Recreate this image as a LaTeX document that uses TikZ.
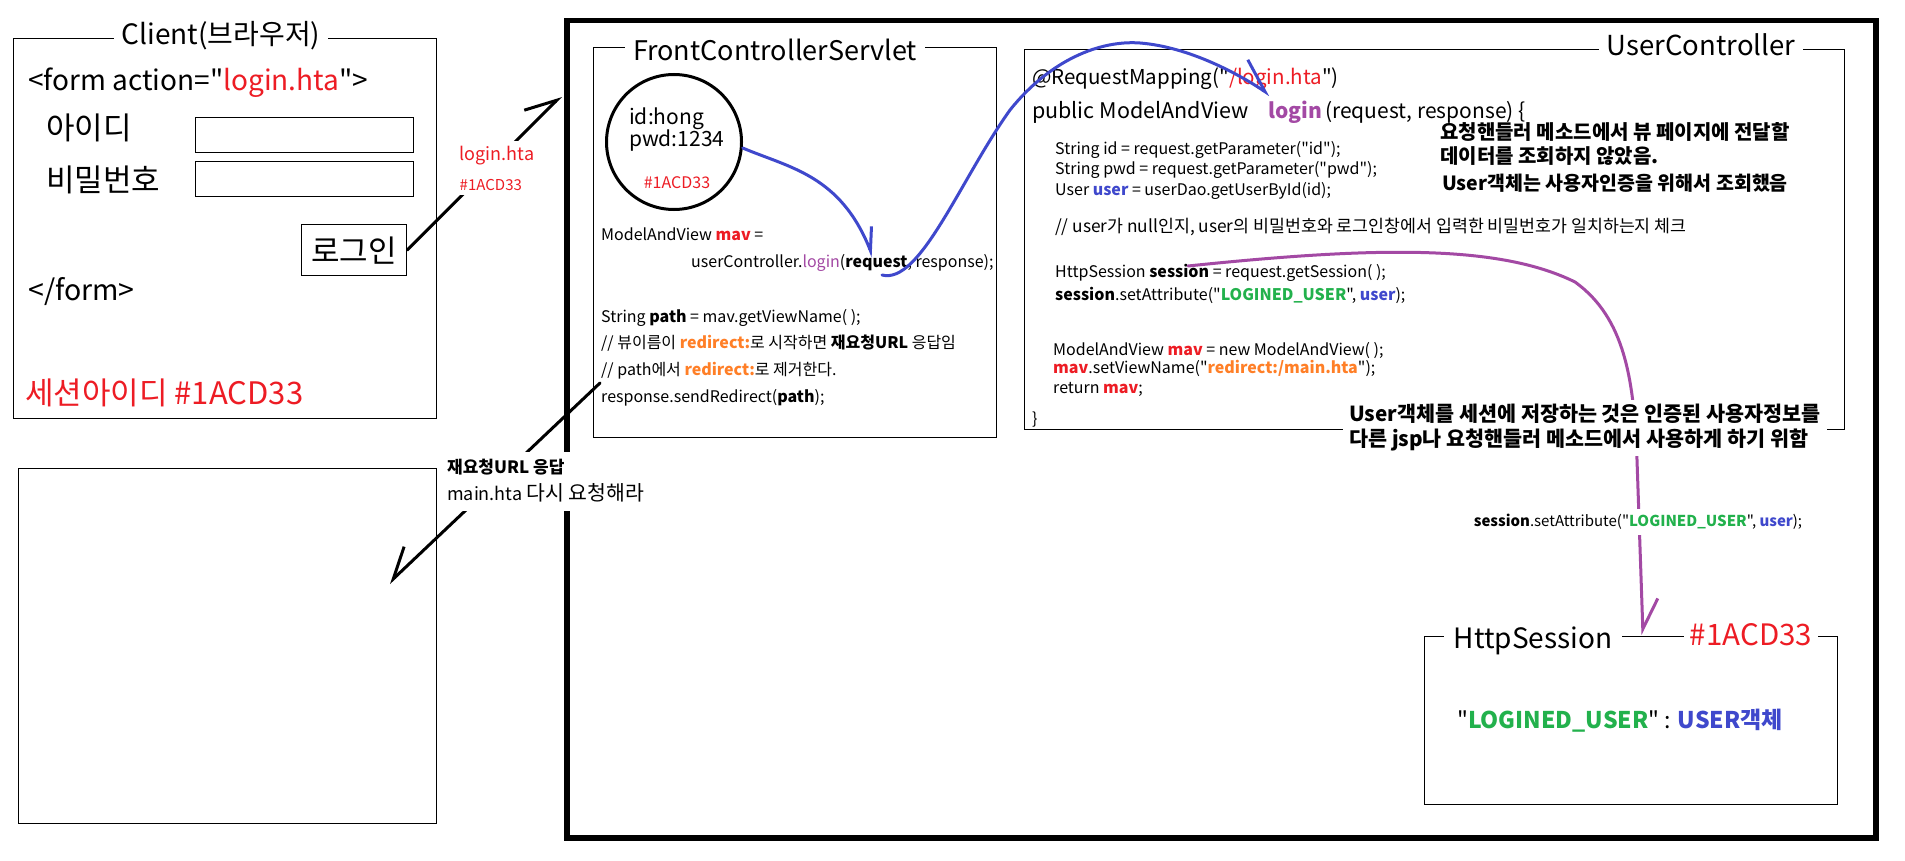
\documentclass[tikz,border=0pt]{standalone}
\usepackage{fontspec}
\setmainfont{Noto Sans CJK KR}[Ligatures=TeXOff]
\usetikzlibrary{arrows.meta}
\definecolor{cred}{HTML}{ED1C24}
\definecolor{corange}{HTML}{FF7F27}
\definecolor{cgreen}{HTML}{22B14C}
\definecolor{cblue}{HTML}{3F48CC}
\definecolor{cpurple}{HTML}{A349A4}
\newcommand{\fsz}[1]{\fontsize{#1}{#1}\selectfont}
\newcommand{\bR}[1]{\textbf{\color{cred}#1}}
\newcommand{\bO}[1]{\textbf{\color{corange}#1}}
\newcommand{\bG}[1]{\textbf{\color{cgreen}#1}}
\newcommand{\bB}[1]{\textbf{\color{cblue}#1}}
\begin{document}
\begin{tikzpicture}[x=1pt,y=-1pt,
  T/.style={font=\fsz{#1}, inner sep=0pt, anchor=base west},
  box/.style={draw, line width=1.2pt, inner sep=0pt, anchor=north west},
  ttl/.style={fill=white, anchor=base, inner xsep=8pt, inner ysep=4pt},
  hand/.style={line width=3pt, line cap=round, line join=round},
  barbL/.style={-{Straight Barb[harpoon, length=30pt, width=32pt]}},
  barbR/.style={-{Straight Barb[harpoon, swap, length=30pt, width=32pt]}}
]
\fill[white] (0,0) rectangle (1905,861);
\useasboundingbox (0,0) rectangle (1905,861);

% ---------- client side ----------
\node[box, minimum width=423pt, minimum height=380pt] (client) at (13,38) {};
\node[ttl, font=\fsz{28}] (clientT) at (221,45) {Client(브라우저)};
\node[T=28] (form1) at (28,91) {<form action="{\color{cred}login.hta}">};
\node[T=31] (idl) at (46,140) {아이디};
\node[T=31] (pwl) at (46,192) {비밀번호};
\node[box, minimum width=218pt, minimum height=35pt] (inp1) at (195,117) {};
\node[box, minimum width=218pt, minimum height=35pt] (inp2) at (195,161) {};
\node[box, minimum width=105pt, minimum height=51pt, font=\fsz{31}] (lgbtn) at (301,224) {로그인};
\node[T=28.5] (form2) at (28,300) {</form>};
\node[T=31, text=cred] (sid) at (25,404) {세션아이디 \#1ACD33};

\node[box, minimum width=418pt, minimum height=355pt] (page2) at (18,468) {};

% ---------- server frame ----------
\node[box, line width=5.5pt, minimum width=1309pt, minimum height=817pt] (big) at (564,18) {};
\coordinate (tipA) at (561,96);
\coordinate (rdS) at (600,383);
\coordinate (rdT) at (389,583);

% FrontControllerServlet
\node[box, minimum width=403pt, minimum height=390pt] (fcs) at (593,47) {};
\node[ttl, font=\fsz{27}] (fcsT) at (775,61) {FrontControllerServlet};
\node[draw, circle, line width=3pt, minimum size=135pt, inner sep=0pt] (cl) at (674,142) {};
\node[T=21] (cid) at (629,125) {id:hong};
\node[T=21] (cpw) at (629,147) {pwd:1234};
\node[font=\fsz{16}, text=cred, inner sep=0pt] (csid) at (677,183) {\#1ACD33};
\node[T=16] (f1) at (601,240) {ModelAndView \bR{mav} =};
\node[T=16] (f2) at (691,267) {userController.{\color{cpurple}login}(\textbf{request}, response);};
\node[T=16] (f3) at (601,322) {String \textbf{path} = mav.getViewName( );};
\node[T=16] (f4) at (601,348) {// 뷰이름이 \bO{redirect:}로 시작하면 \textbf{재요청URL} 응답임};
\node[T=16] (f5) at (601,375) {// path에서 \bO{redirect:}로 제거한다.};
\node[T=16] (f6) at (601,402) {response.sendRedirect(\textbf{path});};

% UserController
\node[box, minimum width=820pt, minimum height=380pt] (uc) at (1024,49) {};
\node[ttl, font=\fsz{27.5}] (ucT) at (1701,56) {UserController};
\node[T=20.5] (u1) at (1032,85) {@RequestMapping("{\color{cred}/login.hta}")};
\node[T=21.5] (u2) at (1032,119) {public ModelAndView};
\node[T=21, font=\fsz{21}\bfseries, text=cpurple] (u2b) at (1268,119) {login};
\node[T=21] (u2c) at (1325,119) {(request, response) \{};
\node[T=16] (u3) at (1055,155) {String id = request.getParameter("id");};
\node[T=16] (u4) at (1055,175) {String pwd = request.getParameter("pwd");};
\node[T=16] (u5) at (1055,196) {User \bB{user} = userDao.getUserById(id);};
\node[T=17.3] (u6) at (1055,233) {// user가 null인지, user의 비밀번호와 로그인창에서 입력한 비밀번호가 일치하는지 체크};
\node[T=16] (u7) at (1055,277) {HttpSession \textbf{session} = request.getSession( );};
\node[T=16] (u8) at (1055,300) {\textbf{session}.setAttribute("\bG{LOGINED\_USER}", \bB{user});};
\node[T=16] (u9) at (1053,355) {ModelAndView \bR{mav} = new ModelAndView( );};
\node[T=16] (u10) at (1053,373) {\bR{mav}.setViewName("\bO{redirect:/main.hta}");};
\node[T=16] (u11) at (1053,393) {return \bR{mav};};
\node[T=16] (u12) at (1032,424) {\}};
\node[T=20, font=\fsz{20}\bfseries] (n1) at (1440,140) {요청핸들러 메소드에서 뷰 페이지에 전달할};
\node[T=20, font=\fsz{20}\bfseries] (n2) at (1440,164) {데이터를 조회하지 않았음.};
\node[T=19.5, font=\fsz{19.5}\bfseries] (n3) at (1442,190) {User객체는 사용자인증을 위해서 조회했음};

% HttpSession
\node[box, minimum width=413pt, minimum height=168pt] (hs) at (1424,636) {};
\node[ttl, font=\fsz{28}, inner xsep=10pt] (hsT) at (1533,648) {HttpSession};
\node[ttl, font=\fsz{29.5}, text=cred, inner xsep=6pt] (hsid) at (1751,645) {\#1ACD33};
\node[T=23] (hsc) at (1457,728) {"\bG{LOGINED\_USER}" : \bB{USER객체}};
\coordinate (hsTip) at (1643,635);

% ---------- connectors ----------
\coordinate (b1e) at (873,257);
\coordinate (b2s) at (882,275);
\coordinate (b2e) at (1270,95);
\coordinate (ps) at (1188,266);

\draw[hand, barbL] (lgbtn.east) -- (tipA);
\draw[hand, barbR] (rdS) -- (rdT);
\draw[hand, cblue, -{Straight Barb[harpoon, length=22pt, width=20pt]}]
  (cl.-5) .. controls (790,168) and (840,175) .. (b1e);
\draw[hand, cblue, -{Straight Barb[harpoon, length=32pt, width=34pt]}]
  (b2s) .. controls (920,285) and (960,180) .. (1010,110)
        .. controls (1050,60) and (1100,40) .. (1140,43)
        .. controls (1190,47) and (1240,75) .. (b2e);
\draw[hand, cpurple, barbL]
  (ps) .. controls (1380,246) and (1500,245) .. (1575,282)
       .. controls (1625,318) and (1634,380) .. (1637,460)
       -- (hsTip);

% ---------- labels over connectors ----------
\node[fill=white, align=left, inner xsep=3pt, inner ysep=5pt, font=\fontsize{15}{30}\selectfont] (lbl1) at (497,168)
  {{\fsz{18}\color{cred}login.hta}\\{\fsz{15}\color{cred}\#1ACD33}};
\node[fill=white, align=left, anchor=west, inner xsep=4pt, inner ysep=8pt, font=\fontsize{17}{27}\selectfont] (rl) at (443,481)
  {\textbf{재요청URL 응답}\\{\fsz{18}main.hta} {\fsz{20.5}다시 요청해라}};
\node[fill=white, inner xsep=4pt, inner ysep=5pt, font=\fsz{15}] (sa) at (1638,522)
  {\textbf{session}.setAttribute("\bG{LOGINED\_USER}", \bB{user});};
\node[fill=white, align=left, anchor=west, inner xsep=6pt, inner ysep=4pt, font=\fontsize{20.7}{25}\selectfont\bfseries] (n4) at (1343,428)
  {User객체를 세션에 저장하는 것은 인증된 사용자정보를\\다른 jsp나 요청핸들러 메소드에서 사용하게 하기 위함};
\end{tikzpicture}
\end{document}
